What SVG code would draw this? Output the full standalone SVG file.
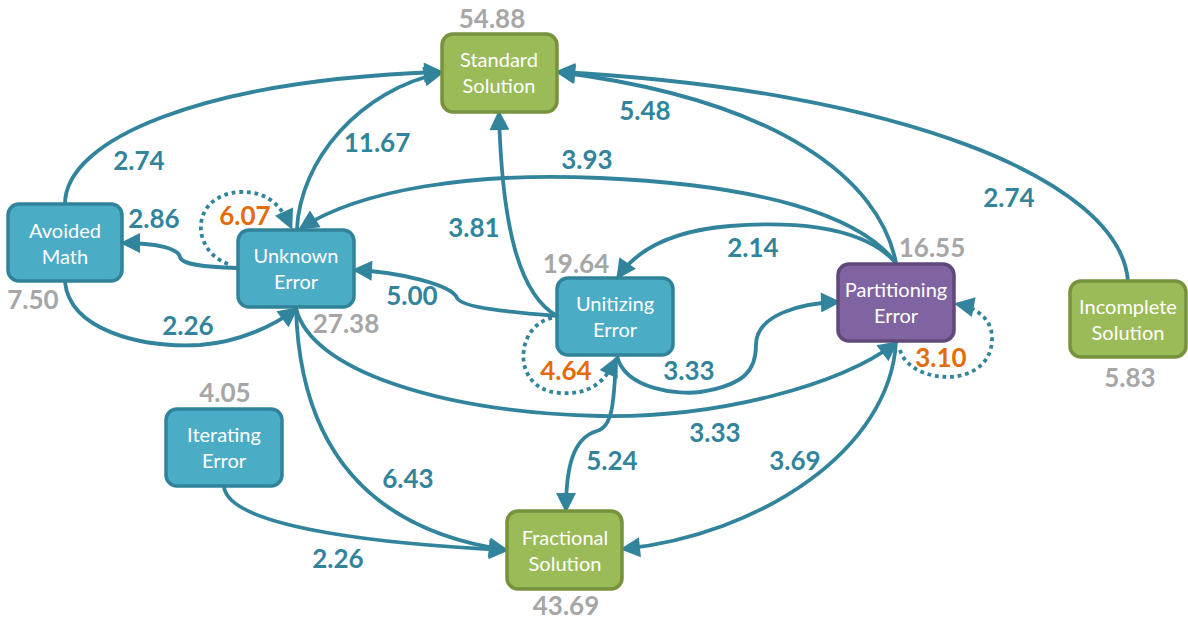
<svg xmlns="http://www.w3.org/2000/svg" width="1188" height="623" viewBox="0 0 1188 623">
  <style>
    .node rect { stroke-width: 3.5; }
    .blue rect { fill: #4BACC6; stroke: #31839A; }
    .green rect { fill: #9BBB59; stroke: #76923C; }
    .purple rect { fill: #8064A2; stroke: #5F497A; }
    .node text { font-family: Lato, "Open Sans", "Liberation Sans", sans-serif; font-size: 20px; fill: #FFFFFF; text-anchor: middle; }
    .edge { fill: none; stroke: #31849B; stroke-width: 3.8; }
    .loop { fill: none; stroke: #31849B; stroke-width: 3.8; stroke-dasharray: 3.8 3.8; }
    .num { font-family: Lato, "Open Sans", "Liberation Sans", sans-serif; font-size: 26px; font-weight: bold; text-anchor: middle; }
    .w { fill: #31849B; }
    .o { fill: #E36C09; }
    .g { fill: #A6A6A6; }
  </style>
  <defs>
    <marker id="arrow" viewBox="0 0 10 10" refX="8.5" refY="5" markerUnits="userSpaceOnUse" markerWidth="21" markerHeight="20" orient="auto">
      <path d="M0,0 L10,5 L0,10 z" fill="#31849B"/>
    </marker>
  </defs>

  <!-- connectors -->
  <g id="connectors">
    <!-- into Standard Solution -->
    <path class="edge" d="M65,204 C65,140 200,80 441,72" marker-end="url(#arrow)"/>
    <path class="edge" d="M297,229 C300,160 360,90 441,73" marker-end="url(#arrow)"/>
    <path class="edge" d="M896,263 C880,180 780,100 558,72" marker-end="url(#arrow)"/>
    <path class="edge" d="M1128,281 C1120,180 900,90 558,72" marker-end="url(#arrow)"/>
    <path class="edge" d="M557,316 C520,295 502,230 499,113" marker-end="url(#arrow)"/>
    <!-- into Unknown Error -->
    <path class="edge" d="M896,263 C860,215 760,185 600,178 C470,172 360,190 301,228" marker-end="url(#arrow)"/>
    <path class="edge" d="M557,316 C510,312 462,308 457,298 C452,285 400,272 355,270" marker-end="url(#arrow)"/>
    <path class="edge" d="M65,282 C70,330 140,348 200,345 C240,342 275,325 296,309" marker-end="url(#arrow)"/>
    <!-- into Avoided Math -->
    <path class="edge" d="M237,268 C205,267 182,265 180,257 C178,248 155,243 123,243" marker-end="url(#arrow)"/>
    <!-- into Unitizing Error -->
    <path class="edge" d="M896,263 C860,222 780,222 730,226 C680,230 640,245 618,277" marker-end="url(#arrow)"/>
    <!-- into Partitioning Error -->
    <path class="edge" d="M617,356 C625,390 680,395 700,392 C745,385 756,370 756,345 C756,315 800,303 838,302" marker-end="url(#arrow)"/>
    <path class="edge" d="M296,308 C310,370 440,412 600,416 C720,418 840,385 896,343" marker-end="url(#arrow)"/>
    <!-- into Fractional Solution -->
    <path class="edge" d="M296,308 C300,450 370,530 506,550" marker-end="url(#arrow)"/>
    <path class="edge" d="M224,487 C230,530 400,545 506,550" marker-end="url(#arrow)"/>
    <path class="edge" d="M616,358 C614,405 612,427 597,431 C572,438 566,470 566,510" marker-end="url(#arrow)"/>
    <path class="edge" d="M896,342 C890,450 760,535 623,549" marker-end="url(#arrow)"/>
    <!-- self loops -->
    <path class="loop" d="M228,264 C190,250 190,195 240,192 C265,191 280,203 291,227" marker-end="url(#arrow)"/>
    <path class="loop" d="M552,318 C515,325 510,390 560,393 C590,395 605,382 616,359" marker-end="url(#arrow)"/>
    <path class="loop" d="M900,350 C910,385 990,390 992,340 C993,320 978,308 957,304" marker-end="url(#arrow)"/>
  </g>

  <!-- nodes -->
  <g id="standard-solution" class="node green">
    <rect x="442" y="34" width="115" height="78" rx="11"/>
    <text x="499" y="67">Standard</text>
    <text x="499" y="93">Solution</text>
  </g>
  <g id="avoided-math" class="node blue">
    <rect x="8" y="204" width="114" height="77" rx="11"/>
    <text x="65" y="238">Avoided</text>
    <text x="65" y="264">Math</text>
  </g>
  <g id="unknown-error" class="node blue">
    <rect x="238" y="230" width="116" height="77" rx="11"/>
    <text x="296" y="263">Unknown</text>
    <text x="296" y="289">Error</text>
  </g>
  <g id="unitizing-error" class="node blue">
    <rect x="557" y="278" width="116" height="77" rx="11"/>
    <text x="615" y="311">Unitizing</text>
    <text x="615" y="337">Error</text>
  </g>
  <g id="partitioning-error" class="node purple">
    <rect x="838" y="264" width="116" height="77" rx="11"/>
    <text x="896" y="297">Partitioning</text>
    <text x="896" y="323">Error</text>
  </g>
  <g id="incomplete-solution" class="node green">
    <rect x="1070" y="281" width="116" height="76" rx="11"/>
    <text x="1128" y="314">Incomplete</text>
    <text x="1128" y="340">Solution</text>
  </g>
  <g id="iterating-error" class="node blue">
    <rect x="166" y="409" width="116" height="77" rx="11"/>
    <text x="224" y="442">Iterating</text>
    <text x="224" y="468">Error</text>
  </g>
  <g id="fractional-solution" class="node green">
    <rect x="507" y="511" width="115" height="78" rx="11"/>
    <text x="565" y="545">Fractional</text>
    <text x="565" y="571">Solution</text>
  </g>

  <!-- node totals -->
  <g id="totals">
    <text class="num g" x="492" y="28">54.88</text>
    <text class="num g" x="33" y="309">7.50</text>
    <text class="num g" x="346" y="333">27.38</text>
    <text class="num g" x="576" y="273">19.64</text>
    <text class="num g" x="932" y="257">16.55</text>
    <text class="num g" x="1130" y="387">5.83</text>
    <text class="num g" x="225" y="402">4.05</text>
    <text class="num g" x="566" y="615">43.69</text>
  </g>

  <!-- transition weights -->
  <g id="weights">
    <text class="num w" x="139" y="170">2.74</text>
    <text class="num w" x="377" y="152">11.67</text>
    <text class="num w" x="645" y="120">5.48</text>
    <text class="num w" x="587" y="169">3.93</text>
    <text class="num w" x="1009" y="207">2.74</text>
    <text class="num w" x="154" y="228">2.86</text>
    <text class="num o" x="245" y="225">6.07</text>
    <text class="num w" x="474" y="237">3.81</text>
    <text class="num w" x="753" y="257">2.14</text>
    <text class="num w" x="412" y="305">5.00</text>
    <text class="num w" x="188" y="335">2.26</text>
    <text class="num o" x="566" y="380">4.64</text>
    <text class="num w" x="689" y="380">3.33</text>
    <text class="num o" x="941" y="367">3.10</text>
    <text class="num w" x="715" y="442">3.33</text>
    <text class="num w" x="612" y="470">5.24</text>
    <text class="num w" x="795" y="470">3.69</text>
    <text class="num w" x="408" y="488">6.43</text>
    <text class="num w" x="338" y="568">2.26</text>
  </g>
</svg>
